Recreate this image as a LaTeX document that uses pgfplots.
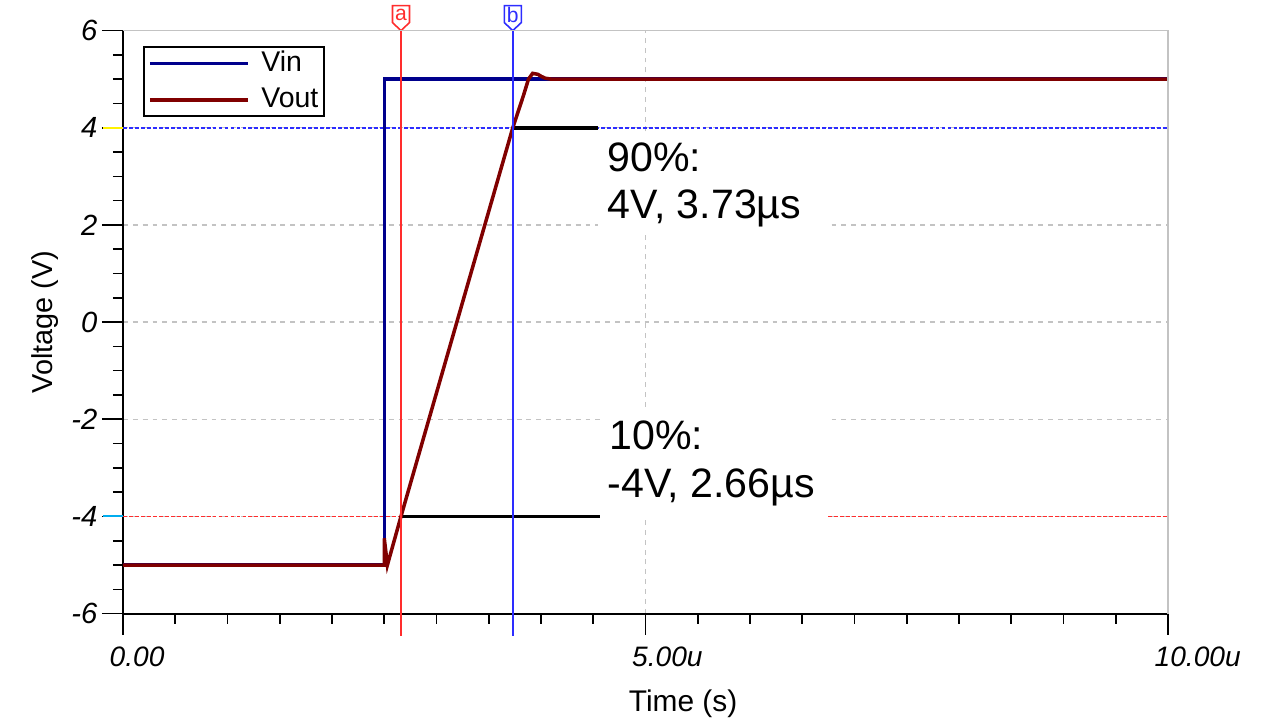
\documentclass[border=0pt]{standalone}
\usepackage{fontspec}
\setmainfont{Liberation Sans}
\usepackage{pgfplots}
\pgfplotsset{compat=1.18}
\definecolor{vin}{RGB}{0,0,140}
\definecolor{vout}{RGB}{128,0,0}
\definecolor{cura}{RGB}{255,45,45}
\definecolor{curb}{RGB}{45,45,255}
\definecolor{gridgray}{RGB}{195,195,195}

\begin{document}
\begin{tikzpicture}
\useasboundingbox[fill=white] (0,0) rectangle (12.8,7.2);
\begin{axis}[
  at={(1.23cm,1.064cm)}, anchor=south west,
  width=10.45cm, height=5.83cm, scale only axis,
  xmin=0, xmax=10, ymin=-6, ymax=6,
  clip=false,
  axis x line=bottom, axis y line=left,
  axis line style={-, black, line width=0.6pt},
  xtick={0,5,10}, xticklabels={0.00,5.00u,10.00u},
  ytick={-6,-4,-2,0,2,4,6}, yticklabels={-6,-4,-2,0,2,4,6},
  minor x tick num=9, minor y tick num=3,
  tick align=outside,
  major tick length=0.21cm, minor tick length=0.1cm,
  tick style={black, line width=0.45pt},
  xmajorgrids, ymajorgrids,
  major grid style={gridgray, dash pattern=on 1.4pt off 1.4pt, line width=0.4pt},
  xticklabel style={font=\itshape\fontsize{8}{9}\selectfont, anchor=north west,
    inner sep=0pt, xshift=-0.14cm, yshift=-0.12cm},
  yticklabel style={font=\itshape\fontsize{8.3}{9}\selectfont, inner sep=0pt, xshift=-0.04cm},
  xlabel={Time (s)},
  xlabel style={font=\fontsize{8.5}{10}\selectfont, at={(axis description cs:0.536,0)},
    anchor=north, inner sep=0pt, yshift=-0.76cm},
  ylabel={Voltage (V)},
  ylabel style={font=\fontsize{8.2}{10}\selectfont, at={(axis description cs:-0.0746,0.5)},
    anchor=center},
  legend style={at={(axis description cs:0.019,0.974)}, anchor=north west,
    draw=black, line width=0.6pt, fill=white,
    font=\fontsize{8.1}{9.5}\selectfont,
    nodes={inner sep=0.5pt}, inner xsep=1.2pt, inner ysep=0.6pt, row sep=0.075cm},
  legend cell align=left,
  legend image code/.code={\draw[#1] (0cm,0cm) -- (0.98cm,0cm); \path (1.08cm,0cm);},
]
% cursor level lines
\addplot[curb, line width=0.5pt, dash pattern=on 1.1pt off 0.6pt, forget plot]
  coordinates {(0,4) (10,4)};
\addplot[cura, line width=0.5pt, dash pattern=on 1.1pt off 0.6pt, forget plot]
  coordinates {(0,-4) (10,-4)};
\addplot[yellow, line width=0.6pt, forget plot] coordinates {(-0.19,4) (0,4)};
\addplot[cyan, line width=0.6pt, forget plot] coordinates {(-0.19,-4) (0,-4)};

% label boxes
\fill[white] (axis cs:4.545,3.91) rectangle (axis cs:6.746,1.85);
\fill[white] (axis cs:4.56,-1.75) rectangle (axis cs:6.746,-4.07);
\node[anchor=base west, inner sep=0pt, font=\fontsize{11.7}{13}\selectfont] at (axis cs:4.63,3.09) {90\%:};
\node[anchor=base west, inner sep=0pt, font=\fontsize{11.7}{13}\selectfont] at (axis cs:4.63,2.14) {4V, 3.73µs};
\node[anchor=base west, inner sep=0pt, font=\fontsize{11.7}{13}\selectfont] at (axis cs:4.65,-2.63) {10\%:};
\node[anchor=base west, inner sep=0pt, font=\fontsize{11.7}{13}\selectfont] at (axis cs:4.63,-3.62) {-4V, 2.66µs};

% measurement segments
\addplot[black, line width=1pt, forget plot] coordinates {(3.73,4) (4.55,4)};
\addplot[black, line width=1pt, forget plot] coordinates {(2.66,-4) (4.56,-4)};

% signals
\addplot[vin, line width=1pt] coordinates {
  (0,-5) (2.5,-5) (2.5,5) (10,5)};
\addlegendentry{Vin}
\addplot[vout, line width=1pt] coordinates {
  (0,-5) (2.5,-5) (2.5,-4.45) (2.53,-5) (2.66,-4) (3.2,0.04) (3.73,4)
  (3.83,4.65) (3.88,5.0) (3.92,5.12) (3.97,5.1) (4.0,5.06) (4.04,5.02)
  (4.1,5.0) (10,5)};
\addlegendentry{Vout}

% cursors
\addplot[cura, line width=0.45pt, forget plot] coordinates {(2.66,-6.46) (2.66,6)};
\addplot[curb, line width=0.45pt, forget plot] coordinates {(3.73,-6.46) (3.73,6)};
\draw[cura, line width=0.45pt, fill=white, shift={(axis cs:2.66,6)}]
  (0pt,0pt) -- (0.085cm,0.08cm) -- (0.085cm,0.25cm) -- (-0.085cm,0.25cm)
  -- (-0.085cm,0.08cm) -- cycle;
\node[cura, inner sep=0pt, font=\fontsize{6}{6}\selectfont] at ([yshift=0.155cm]axis cs:2.66,6) {a};
\draw[curb, line width=0.45pt, fill=white, shift={(axis cs:3.73,6)}]
  (0pt,0pt) -- (0.085cm,0.08cm) -- (0.085cm,0.25cm) -- (-0.085cm,0.25cm)
  -- (-0.085cm,0.08cm) -- cycle;
\node[curb, inner sep=0pt, font=\fontsize{6}{6}\selectfont] at ([yshift=0.155cm]axis cs:3.73,6) {b};

% top and right frame
\draw[gridgray, line width=0.5pt] (axis cs:0,6) -- (axis cs:10,6) -- (axis cs:10,-6);
\end{axis}
\end{tikzpicture}
\end{document}
